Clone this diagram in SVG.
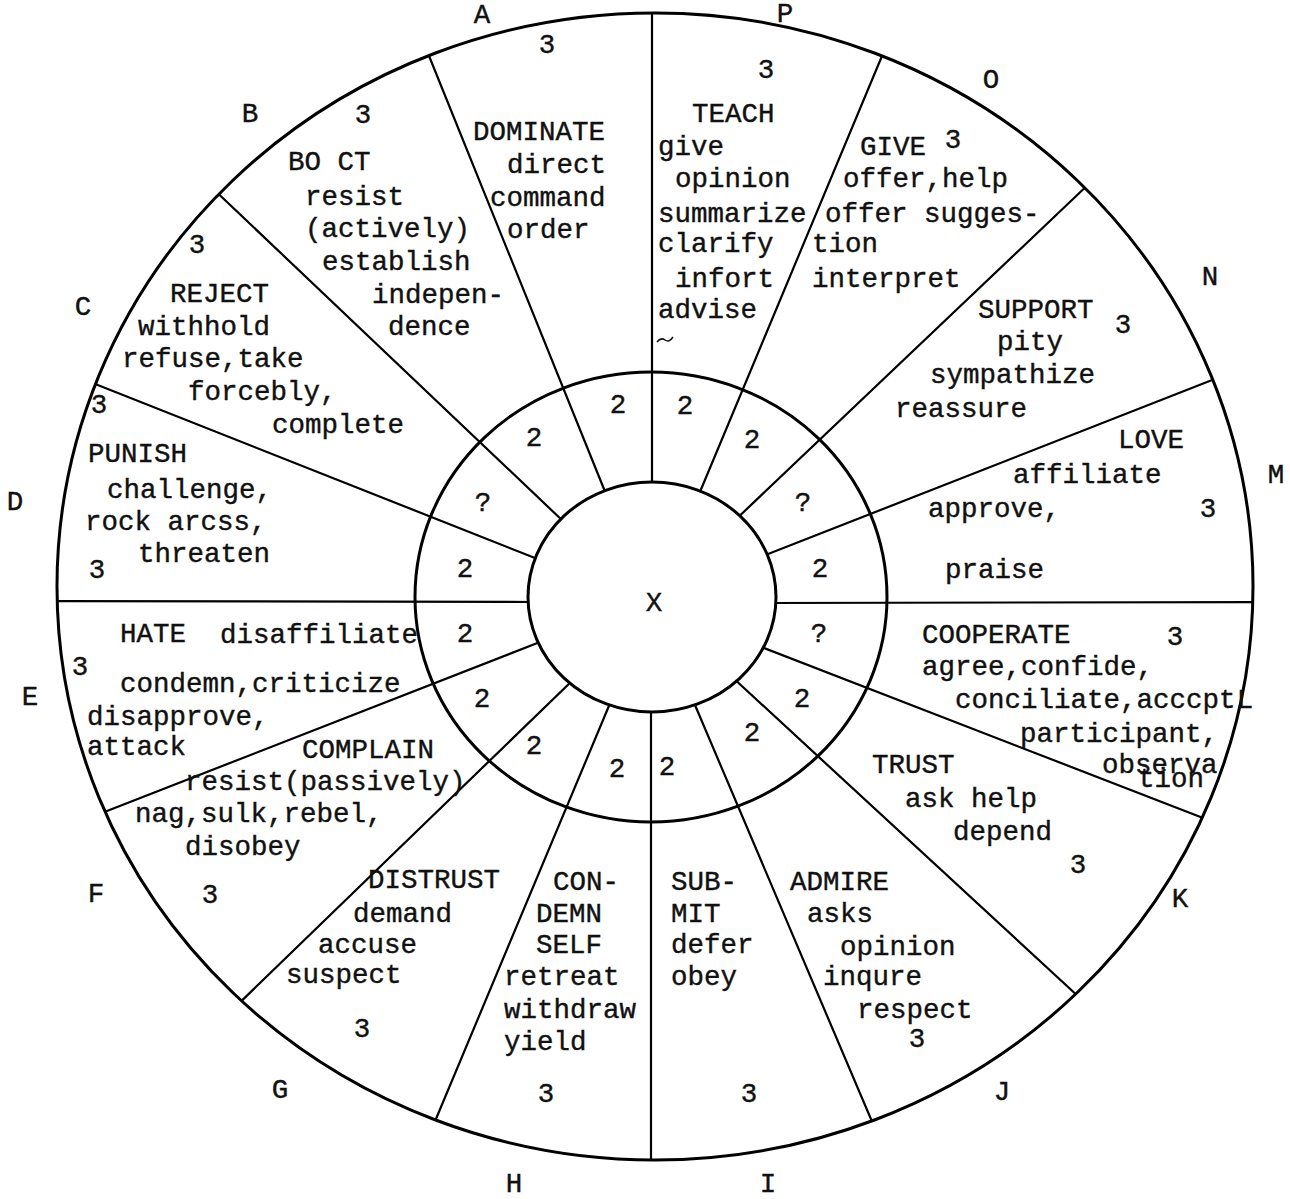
<svg xmlns="http://www.w3.org/2000/svg" width="1290" height="1199" viewBox="0 0 1290 1199">
<style>
text{font-family:"Liberation Mono","Courier New",monospace;font-size:27.5px;fill:#111;stroke:#111;stroke-width:0.4}
.c{text-anchor:middle}
.sp{stroke:#000;stroke-width:2.2;fill:none;stroke-linecap:round}
.ring{stroke:#000;stroke-width:3;fill:none}
</style>
<defs>
<clipPath id="clipOuter"><ellipse cx="655" cy="586.5" rx="598" ry="573.5"/></clipPath>
</defs>
<rect width="1290" height="1199" fill="#fff"/>
<g id="connectors" clip-path="url(#clipOuter)">
<line class="sp" x1="652" y1="0" x2="652" y2="492"/>
<line class="sp" x1="887" y1="44" x2="697" y2="499"/>
<line class="sp" x1="1093" y1="180" x2="731" y2="524"/>
<line class="sp" x1="1230" y1="373" x2="758" y2="558"/>
<line class="sp" x1="1275" y1="602" x2="768" y2="603"/>
<line class="sp" x1="1216" y1="823" x2="751" y2="643"/>
<line class="sp" x1="1093" y1="1010" x2="731" y2="676"/>
<line class="sp" x1="879" y1="1138" x2="692" y2="698"/>
<line class="sp" x1="651" y1="1180" x2="651" y2="704"/>
<line class="sp" x1="428" y1="1138" x2="611" y2="701"/>
<line class="sp" x1="228" y1="1014" x2="574" y2="679"/>
<line class="sp" x1="89" y1="818" x2="540" y2="642"/>
<line class="sp" x1="44" y1="601" x2="536" y2="602"/>
<line class="sp" x1="80" y1="378" x2="540" y2="560"/>
<line class="sp" x1="207" y1="183" x2="564" y2="522"/>
<line class="sp" x1="423" y1="41" x2="606" y2="494"/>
</g>
<g id="circles">
<ellipse id="outer-circle" class="ring" cx="655" cy="586.5" rx="598" ry="573.5"/>
<ellipse id="middle-ring" class="ring" cx="651" cy="597" rx="236" ry="225"/>
<ellipse id="inner-circle" cx="652" cy="597" rx="124" ry="115" fill="#fff" stroke="#000" stroke-width="3"/>
</g>
<g id="center"><text class="c" x="654" y="611">X</text></g>
<g id="labels">
<text class="c" x="482" y="23">A</text>
<text class="c" x="785" y="22">P</text>
<text class="c" x="991" y="88">O</text>
<text class="c" x="1210" y="285">N</text>
<text class="c" x="1276" y="483">M</text>
<text class="c" x="1245" y="708">L</text>
<text class="c" x="1180" y="907">K</text>
<text class="c" x="1002" y="1100">J</text>
<text class="c" x="768" y="1192">I</text>
<text class="c" x="514" y="1192">H</text>
<text class="c" x="280" y="1098">G</text>
<text class="c" x="96" y="902">F</text>
<text class="c" x="30" y="705">E</text>
<text class="c" x="15" y="510">D</text>
<text class="c" x="83" y="315">C</text>
<text class="c" x="250" y="122">B</text>
</g>
<g id="ring-numbers">
<text class="c" x="618" y="413">2</text>
<text class="c" x="685" y="414">2</text>
<text class="c" x="752" y="448">2</text>
<text class="c" x="803" y="511">?</text>
<text class="c" x="820" y="577">2</text>
<text class="c" x="819" y="642">?</text>
<text class="c" x="802" y="707">2</text>
<text class="c" x="752" y="741">2</text>
<text class="c" x="667" y="775">2</text>
<text class="c" x="617" y="777">2</text>
<text class="c" x="534" y="754">2</text>
<text class="c" x="482" y="707">2</text>
<text class="c" x="465" y="642">2</text>
<text class="c" x="465" y="577">2</text>
<text class="c" x="483" y="511">?</text>
<text class="c" x="534" y="446">2</text>
</g>
<g id="seg-A">
<text class="c" x="547" y="53">3</text>
<text x="473" y="140">DOMINATE</text>
<text x="507" y="173">direct</text>
<text x="490" y="206">command</text>
<text x="507" y="238">order</text>
</g>
<g id="seg-P">
<text class="c" x="766" y="78">3</text>
<text x="692" y="122">TEACH</text>
<text x="658" y="155">give</text>
<text x="675" y="187">opinion</text>
<text x="658" y="222">summarize</text>
<text x="658" y="252">clarify</text>
<text x="675" y="287">infort</text>
<text x="658" y="318">advise</text>
<path d="M657 342 q4 -5 8 -2 t8 -3" fill="none" stroke="#111" stroke-width="1.5"/>
</g>
<g id="seg-O">
<text class="c" x="953" y="148">3</text>
<text x="860" y="155">GIVE</text>
<text x="843" y="187">offer,help</text>
<text x="825" y="222">offer sugges-</text>
<text x="812" y="252">tion</text>
<text x="812" y="287">interpret</text>
</g>
<g id="seg-N">
<text class="c" x="1123" y="333">3</text>
<text x="978" y="318">SUPPORT</text>
<text x="997" y="350">pity</text>
<text x="930" y="383">sympathize</text>
<text x="895" y="417">reassure</text>
</g>
<g id="seg-M">
<text class="c" x="1208" y="517">3</text>
<text x="1118" y="448">LOVE</text>
<text x="1013" y="483">affiliate</text>
<text x="928" y="517">approve,</text>
<text x="945" y="578">praise</text>
</g>
<g id="seg-L">
<text class="c" x="1175" y="645">3</text>
<text x="922" y="643">COOPERATE</text>
<text x="922" y="675">agree,confide,</text>
<text x="955" y="708">conciliate,acccpt</text>
<text x="1020" y="742">participant,</text>
<text x="1102" y="773">observa</text>
<text x="1138" y="787">tion</text>
</g>
<g id="seg-K">
<text class="c" x="1078" y="873">3</text>
<text x="872" y="773">TRUST</text>
<text x="905" y="807">ask help</text>
<text x="953" y="840">depend</text>
</g>
<g id="seg-J">
<text class="c" x="917" y="1047">3</text>
<text x="790" y="890">ADMIRE</text>
<text x="807" y="922">asks</text>
<text x="840" y="955">opinion</text>
<text x="823" y="985">inqure</text>
<text x="857" y="1018">respect</text>
</g>
<g id="seg-I">
<text class="c" x="749" y="1102">3</text>
<text x="671" y="890">SUB-</text>
<text x="671" y="922">MIT</text>
<text x="671" y="953">defer</text>
<text x="671" y="985">obey</text>
</g>
<g id="seg-H">
<text class="c" x="546" y="1102">3</text>
<text x="553" y="890">CON-</text>
<text x="536" y="922">DEMN</text>
<text x="536" y="953">SELF</text>
<text x="504" y="985">retreat</text>
<text x="504" y="1018">withdraw</text>
<text x="504" y="1050">yield</text>
</g>
<g id="seg-G">
<text class="c" x="362" y="1037">3</text>
<text x="368" y="888">DISTRUST</text>
<text x="353" y="922">demand</text>
<text x="318" y="953">accuse</text>
<text x="286" y="983">suspect</text>
</g>
<g id="seg-F">
<text class="c" x="210" y="903">3</text>
<text x="302" y="758">COMPLAIN</text>
<text x="185" y="790">resist(passively)</text>
<text x="135" y="822">nag,sulk,rebel,</text>
<text x="185" y="855">disobey</text>
</g>
<g id="seg-E">
<text class="c" x="80" y="675">3</text>
<text x="120" y="642">HATE</text>
<text x="220" y="643">disaffiliate</text>
<text x="120" y="692">condemn,criticize</text>
<text x="87" y="725">disapprove,</text>
<text x="87" y="755">attack</text>
</g>
<g id="seg-D">
<text class="c" x="97" y="578">3</text>
<text class="c" x="99" y="413">3</text>
<text x="88" y="462">PUNISH</text>
<text x="107" y="498">challenge,</text>
<text x="85" y="530">rock arcss,</text>
<text x="138" y="562">threaten</text>
</g>
<g id="seg-C">
<text class="c" x="197" y="253">3</text>
<text x="170" y="302">REJECT</text>
<text x="138" y="335">withhold</text>
<text x="122" y="367">refuse,take</text>
<text x="188" y="400">forcebly,</text>
<text x="272" y="433">complete</text>
</g>
<g id="seg-B">
<text class="c" x="363" y="123">3</text>
<text x="288" y="170">BO CT</text>
<text x="305" y="205">resist</text>
<text x="305" y="237">(actively)</text>
<text x="322" y="270">establish</text>
<text x="372" y="303">indepen-</text>
<text x="388" y="335">dence</text>
</g>
</svg>
